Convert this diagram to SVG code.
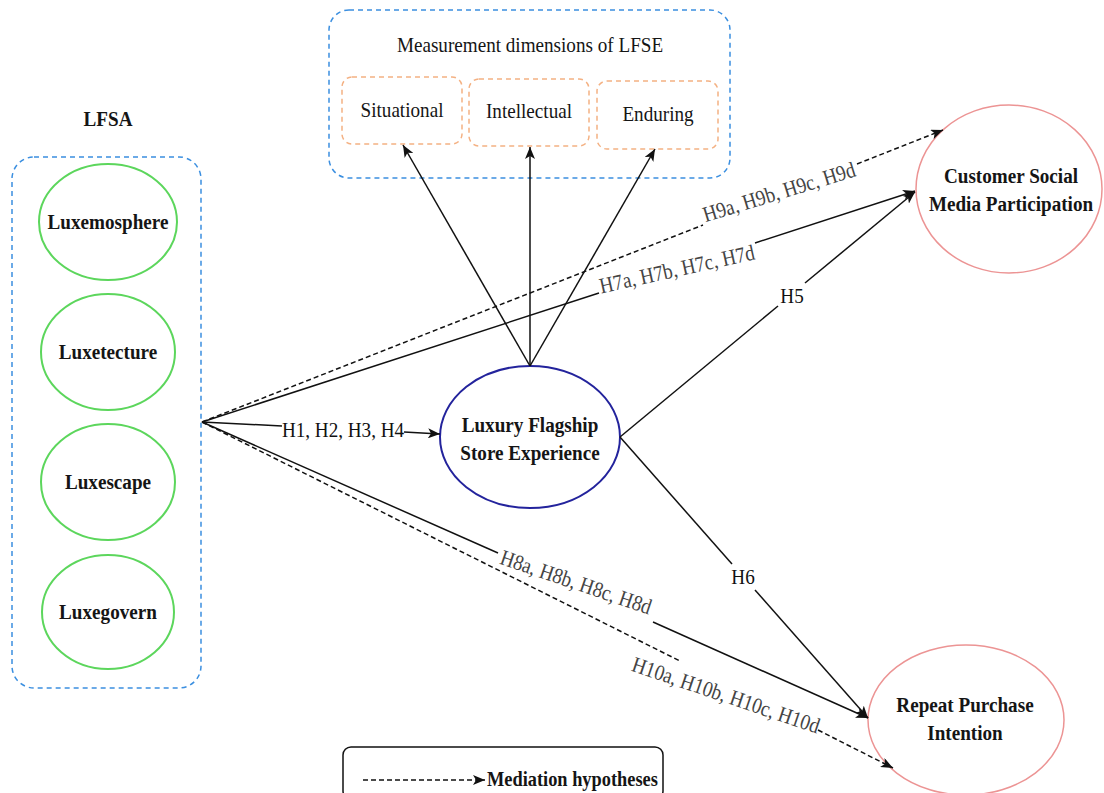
<svg xmlns="http://www.w3.org/2000/svg" width="1104" height="793" viewBox="0 0 1104 793">
  <style>
    .t{font-family:"Liberation Serif","Times New Roman",serif;font-size:22px;fill:#151515;text-anchor:middle}
    .b{font-weight:bold}
    .lab{font-family:"Liberation Serif","Times New Roman",serif;font-size:22px;fill:#444;text-anchor:middle;dominant-baseline:central}
    .hl{fill:#111}
    .grp{fill:none;stroke:#3b8fe0;stroke-width:1.5;stroke-dasharray:5 4}
    .dim{fill:none;stroke:#f4b183;stroke-width:1.5;stroke-dasharray:5 4}
    .sub{fill:#fff;stroke:#5cd65c;stroke-width:2}
    .out{fill:#fff;stroke:#ec9494;stroke-width:1.5}
    .med{fill:#fff;stroke:#23239c;stroke-width:2}
    .ln{stroke:#111;stroke-width:1.5;fill:none}
    .dash{stroke-dasharray:5 3}
  </style>
  <defs>
    <marker id="arr" viewBox="0 0 12 10" refX="12" refY="5" markerWidth="12" markerHeight="10" markerUnits="userSpaceOnUse" orient="auto">
      <path d="M0,0 L12,5 L0,10 L3,5 z" fill="#111"/>
    </marker>
  </defs>

  <!-- LFSA group -->
  <g id="lfsa">
    <text class="t b" transform="translate(108,126) scale(0.87,1)">LFSA</text>
    <rect class="grp" x="12" y="157" width="189" height="531" rx="22"/>
  </g>
  <g id="luxemosphere">
    <ellipse class="sub" cx="108" cy="222" rx="69" ry="58"/>
    <text class="t b" transform="translate(108,229) scale(0.87,1)">Luxemosphere</text>
  </g>
  <g id="luxetecture">
    <ellipse class="sub" cx="108" cy="352" rx="67" ry="58"/>
    <text class="t b" transform="translate(108,359) scale(0.87,1)">Luxetecture</text>
  </g>
  <g id="luxescape">
    <ellipse class="sub" cx="108" cy="482" rx="67" ry="58"/>
    <text class="t b" transform="translate(108,489) scale(0.87,1)">Luxescape</text>
  </g>
  <g id="luxegovern">
    <ellipse class="sub" cx="108" cy="612" rx="66" ry="57"/>
    <text class="t b" transform="translate(108,619) scale(0.87,1)">Luxegovern</text>
  </g>

  <!-- LFSE measurement dimensions -->
  <g id="dimensions">
    <rect class="grp" x="329" y="10" width="401" height="168" rx="20"/>
    <text class="t" transform="translate(530,52) scale(0.87,1)">Measurement dimensions of LFSE</text>
  </g>
  <g id="situational">
    <rect class="dim" x="342" y="77" width="120" height="67" rx="10"/>
    <text class="t" transform="translate(402,117) scale(0.87,1)">Situational</text>
  </g>
  <g id="intellectual">
    <rect class="dim" x="469" y="79" width="120" height="67" rx="10"/>
    <text class="t" transform="translate(529,118) scale(0.87,1)">Intellectual</text>
  </g>
  <g id="enduring">
    <rect class="dim" x="597" y="81" width="121" height="68" rx="10"/>
    <text class="t" transform="translate(658,121) scale(0.87,1)">Enduring</text>
  </g>

  <!-- Constructs -->
  <g id="lfse">
    <ellipse class="med" cx="530" cy="437" rx="90" ry="71"/>
    <text class="t b" transform="translate(530,432) scale(0.87,1)">Luxury Flagship</text>
    <text class="t b" transform="translate(530,460) scale(0.87,1)">Store Experience</text>
  </g>
  <g id="csmp">
    <ellipse class="out" cx="1009" cy="189" rx="93" ry="84"/>
    <text class="t b" transform="translate(1011,183) scale(0.87,1)">Customer Social</text>
    <text class="t b" transform="translate(1011,211) scale(0.87,1)">Media Participation</text>
  </g>
  <g id="rpi">
    <ellipse class="out" cx="966" cy="720" rx="98" ry="75"/>
    <text class="t b" transform="translate(965,712) scale(0.87,1)">Repeat Purchase</text>
    <text class="t b" transform="translate(965,740) scale(0.87,1)">Intention</text>
  </g>

  <!-- Paths between constructs; each labelled path is split around its label -->
  <g id="connectors">
    <line class="ln" x1="530" y1="366" x2="403" y2="145" marker-end="url(#arr)"/>
    <line class="ln" x1="530" y1="366" x2="530" y2="147" marker-end="url(#arr)"/>
    <line class="ln" x1="530" y1="366" x2="655" y2="149" marker-end="url(#arr)"/>

    <!-- H1-H4 -->
    <line class="ln" x1="202" y1="422" x2="282" y2="426"/>
    <line class="ln" x1="404" y1="432" x2="440" y2="434" marker-end="url(#arr)"/>
    <!-- H7 -->
    <line class="ln" x1="202" y1="422" x2="599" y2="293"/>
    <line class="ln" x1="755" y1="243" x2="915" y2="191" marker-end="url(#arr)"/>
    <!-- H9 -->
    <line class="ln dash" x1="202" y1="422" x2="703" y2="225"/>
    <line class="ln dash" x1="857" y1="164" x2="943" y2="130" marker-end="url(#arr)"/>
    <!-- H8 -->
    <line class="ln" x1="202" y1="422" x2="498" y2="553"/>
    <line class="ln" x1="653" y1="622" x2="868" y2="718" marker-end="url(#arr)"/>
    <!-- H10 -->
    <line class="ln dash" x1="202" y1="422" x2="680" y2="661"/>
    <line class="ln dash" x1="818" y1="730" x2="893" y2="768" marker-end="url(#arr)"/>
    <!-- H5 -->
    <line class="ln" x1="620" y1="437" x2="778" y2="306"/>
    <line class="ln" x1="805" y1="283" x2="915" y2="192" marker-end="url(#arr)"/>
    <!-- H6 -->
    <line class="ln" x1="620" y1="437" x2="732" y2="564"/>
    <line class="ln" x1="755" y1="590" x2="868" y2="718" marker-end="url(#arr)"/>

    <text class="lab hl" transform="translate(343,430) scale(0.87,1)">H1, H2, H3, H4</text>
    <text class="lab" transform="translate(677,269) rotate(-12.5) scale(0.87,1)">H7a, H7b, H7c, H7d</text>
    <text class="lab" transform="translate(779,192) rotate(-17) scale(0.87,1)">H9a, H9b, H9c, H9d</text>
    <text class="lab" transform="translate(576,582) rotate(18.8) scale(0.87,1)">H8a, H8b, H8c, H8d</text>
    <text class="lab" transform="translate(726,695) rotate(18.7) scale(0.87,1)">H10a, H10b, H10c, H10d</text>
    <text class="lab hl" transform="translate(792,296) scale(0.87,1)">H5</text>
    <text class="lab hl" transform="translate(743,577) scale(0.87,1)">H6</text>
  </g>

  <!-- Legend -->
  <g id="legend">
    <rect x="343" y="747" width="320" height="52" rx="8" fill="#fff" stroke="#111" stroke-width="1.5"/>
    <line class="ln dash" x1="363" y1="780" x2="485" y2="780" marker-end="url(#arr)"/>
    <text class="t b" transform="translate(487,786) scale(0.835,1)" style="text-anchor:start">Mediation hypotheses</text>
  </g>
</svg>
